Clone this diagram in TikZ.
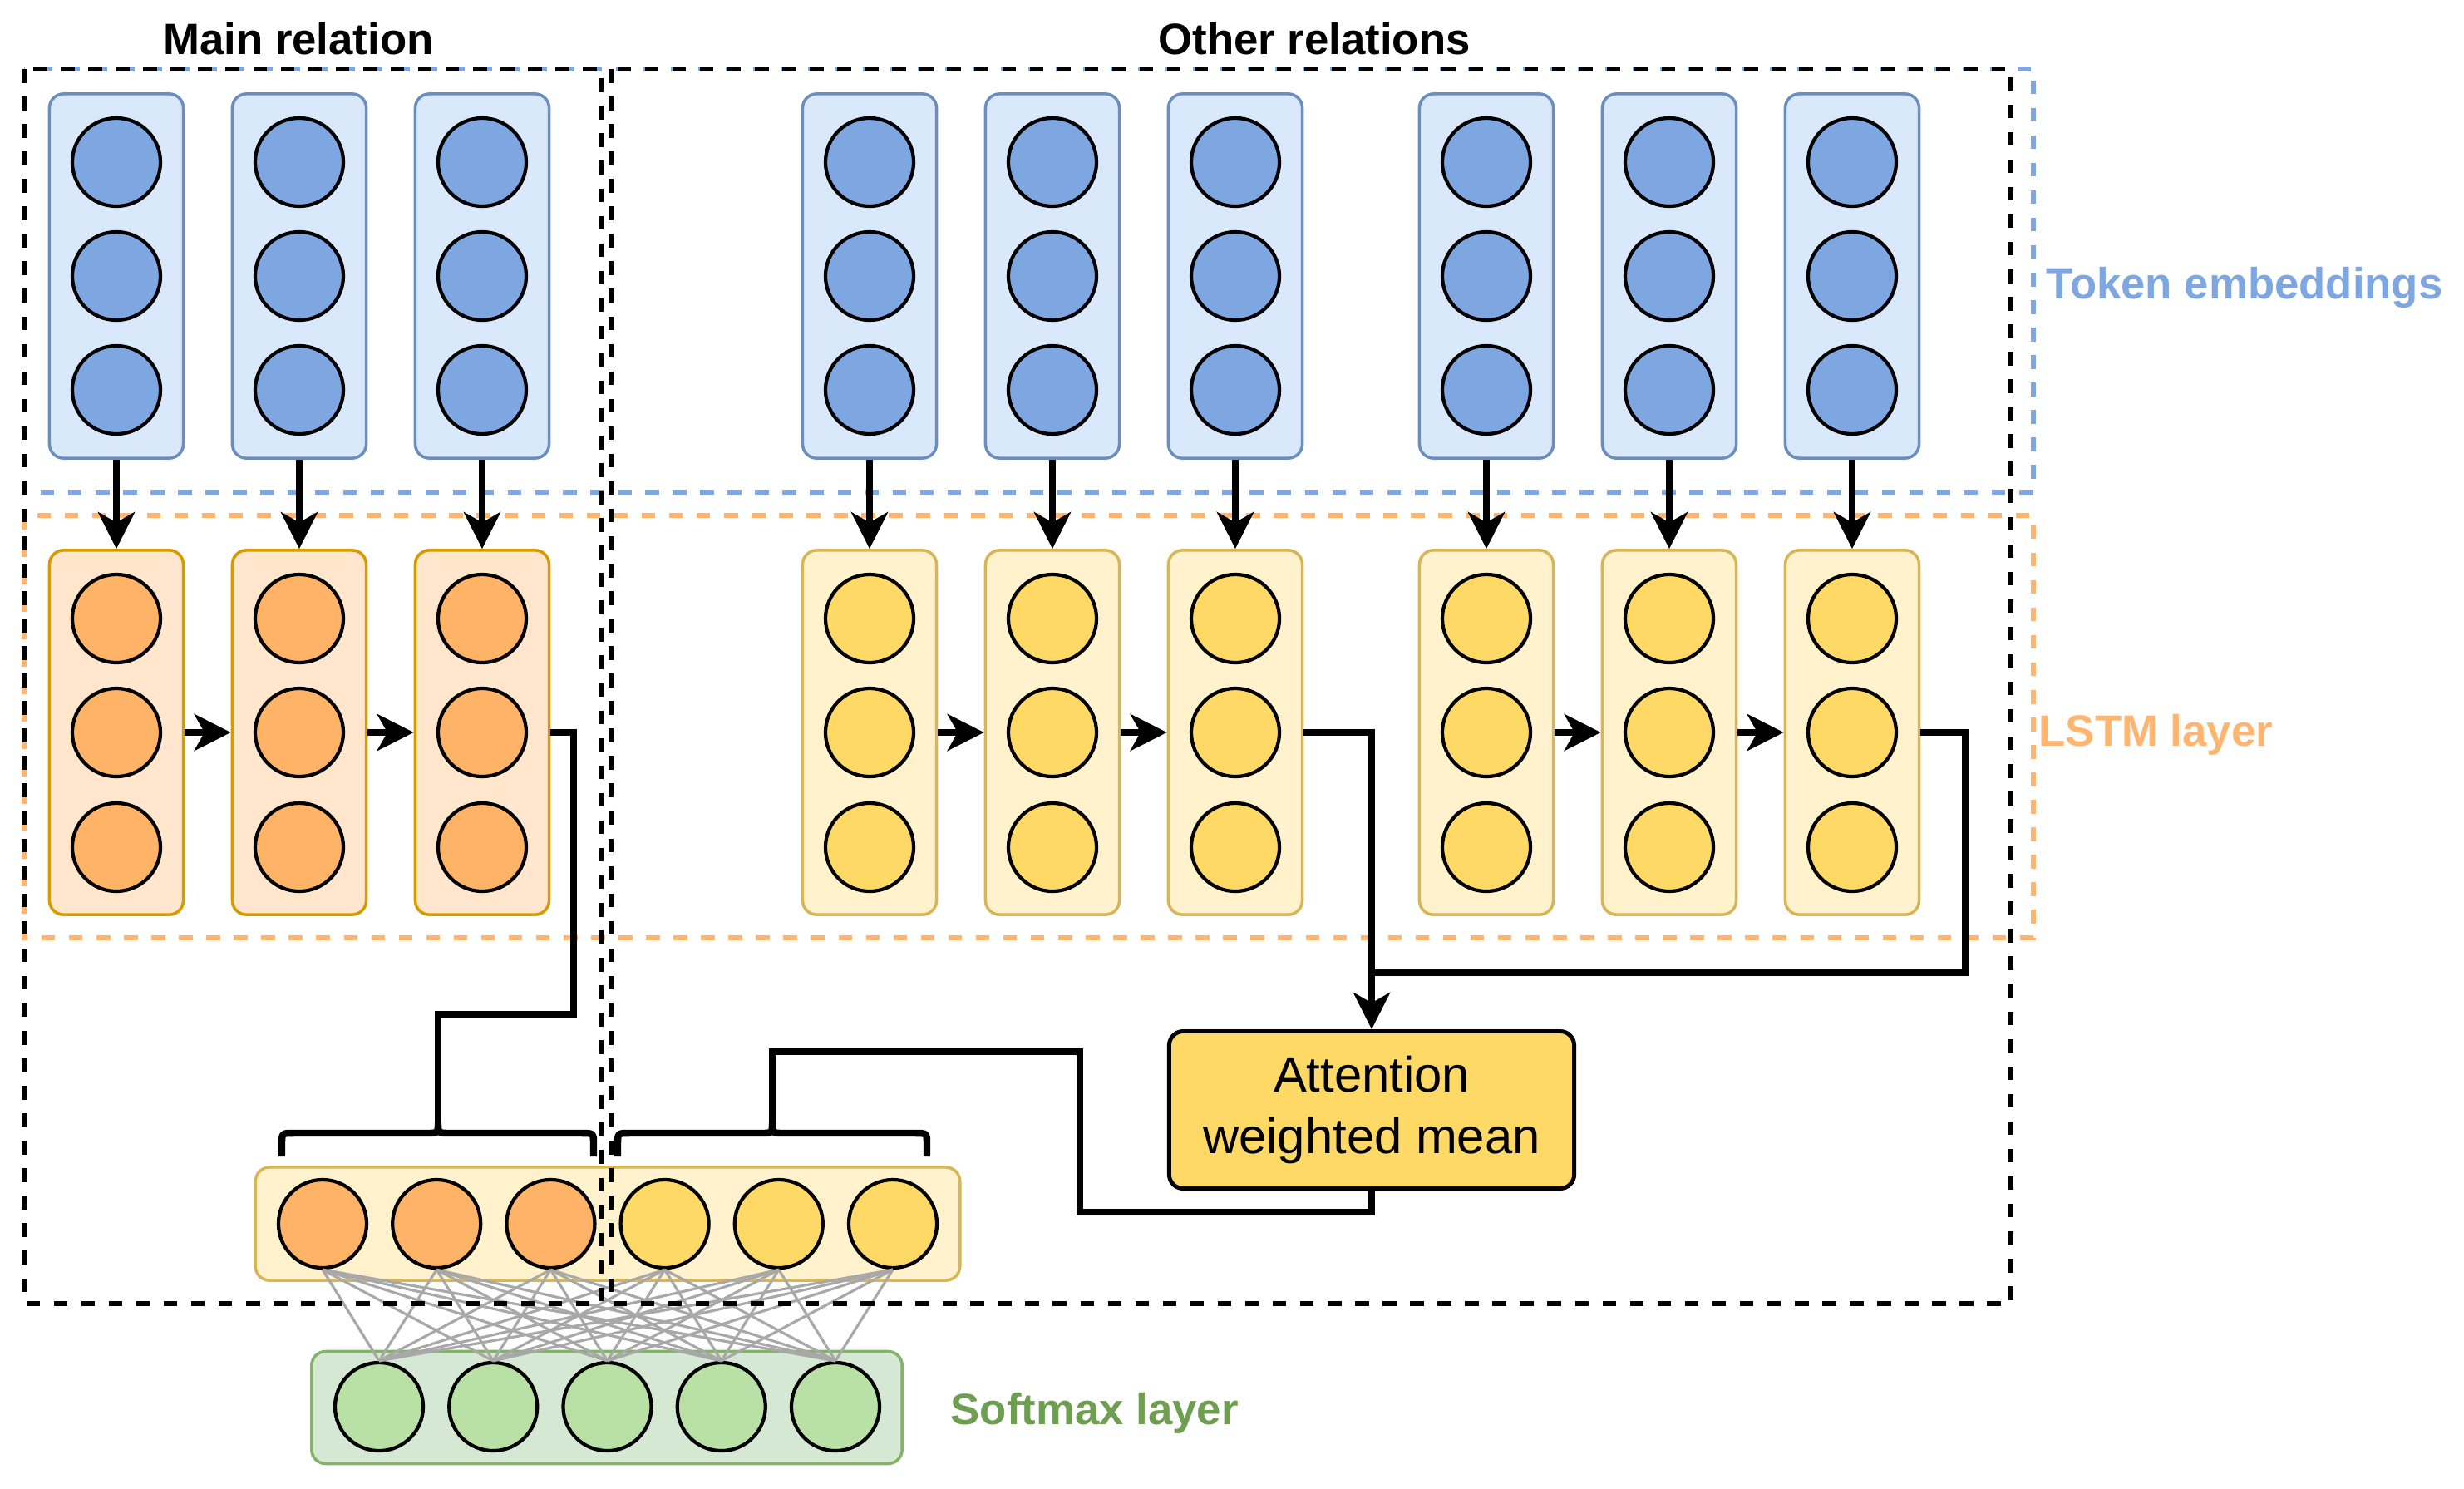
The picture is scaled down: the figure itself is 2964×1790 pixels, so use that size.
\documentclass[tikz,border=0pt]{standalone}
\usepackage{fontspec}
\setmainfont{Liberation Sans}
\usetikzlibrary{arrows.meta}

\definecolor{blueFill}{HTML}{DAE8FC}
\definecolor{blueLine}{HTML}{6C8EBF}
\definecolor{blueDot}{HTML}{7EA6E0}
\definecolor{orangeFill}{HTML}{FFE6CC}
\definecolor{orangeLine}{HTML}{D79B00}
\definecolor{orangeDot}{HTML}{FFB366}
\definecolor{yellowFill}{HTML}{FFF2CC}
\definecolor{yellowLine}{HTML}{D6B656}
\definecolor{yellowDot}{HTML}{FFD966}
\definecolor{greenFill}{HTML}{D5E8D4}
\definecolor{greenLine}{HTML}{82B366}
\definecolor{greenDot}{HTML}{B9E0A5}
\definecolor{greenText}{HTML}{6E9E50}
\definecolor{orangeText}{HTML}{FFB570}
\definecolor{meshGray}{HTML}{A8A8A8}

\tikzset{
  colbox/.style={draw, rounded corners=0.17cm, line width=1pt, minimum width=1.61cm, minimum height=4.38cm},
  rowbox/.style={draw, rounded corners=0.17cm, line width=1pt},
  dotnode/.style={circle, draw=black, line width=1.2pt, minimum size=1.06cm, inner sep=0pt},
  flowarrow/.style={line width=2.4pt, -{Stealth[length=12.5pt,width=12.5pt,inset=3.5pt]}},
  wireline/.style={line width=2.4pt},
  framebox/.style={line width=1.6pt, dash pattern=on 4.7pt off 4.7pt},
  heading/.style={font=\bfseries\fontsize{15}{18}\selectfont, inner sep=0pt},
}
\newcommand{\relbrace}[3]{%
  \draw[wireline] (#1,1391) -- (#1,1377) .. controls (#1,1363) .. ({#1+14},1363)
    -- ({#2-14},1363) .. controls (#2,1363) .. (#2,1350) .. controls (#2,1363) .. ({#2+14},1363)
    -- ({#3-14},1363) .. controls (#3,1363) .. (#3,1377) -- (#3,1391);}

\begin{document}
\begin{tikzpicture}[x=0.01cm, y=-0.01cm]
\useasboundingbox (0,0) rectangle (2964,1790);

% layer frames
\draw[framebox, draw=blueDot] (29,83) rectangle (2446,592);
\draw[framebox, draw=orangeText] (29,620) rectangle (2446,1128);

% token embeddings
\foreach \i/\x in {1/140,2/360,3/580,4/1046,5/1266,6/1486,7/1788,8/2008,9/2228} {
  \node[colbox, draw=blueLine, fill=blueFill] (t\i) at (\x,332) {};
  \foreach \j/\y in {a/195,b/332,c/469}
    \node[dotnode, fill=blueDot] (t\i\j) at (\x,\y) {};
}

% lstm layer
\foreach \i/\x in {1/140,2/360,3/580} {
  \node[colbox, draw=orangeLine, fill=orangeFill] (l\i) at (\x,881) {};
  \foreach \j/\y in {a/744,b/881,c/1019}
    \node[dotnode, fill=orangeDot] (l\i\j) at (\x,\y) {};
}
\foreach \i/\x in {4/1046,5/1266,6/1486,7/1788,8/2008,9/2228} {
  \node[colbox, draw=yellowLine, fill=yellowFill] (l\i) at (\x,881) {};
  \foreach \j/\y in {a/744,b/881,c/1019}
    \node[dotnode, fill=yellowDot] (l\i\j) at (\x,\y) {};
}

\foreach \i in {1,...,9}
  \draw[flowarrow] (t\i) -- (l\i);
\foreach \i/\j in {1/2,2/3,4/5,5/6,7/8,8/9}
  \draw[flowarrow] (l\i) -- (l\j);

% attention
\node[rowbox, draw=black, line width=1.4pt, fill=yellowDot, minimum width=4.87cm, minimum height=1.89cm,
  align=center, font=\fontsize{17}{21}\selectfont] (att) at (1650,1335) {Attention\\weighted mean};
\coordinate (join) at (1650,1170);
\draw[flowarrow] (l6.east) -| (att.north);
\draw[wireline] (l9.east) -| (2364,1170) -- (join);

% concatenated vector
\node[rowbox, draw=yellowLine, fill=yellowFill, minimum width=8.47cm, minimum height=1.36cm] (mix) at (731,1472) {};
\foreach \i in {1,2,3}
  \node[dotnode, fill=orangeDot] (m\i) at ({388+137.2*(\i-1)},1472) {};
\foreach \i in {4,5,6}
  \node[dotnode, fill=yellowDot] (m\i) at ({388+137.2*(\i-1)},1472) {};

\relbrace{339}{527}{714}
\relbrace{743}{929}{1115}
\coordinate (br1) at (527,1350);
\coordinate (br2) at (929,1350);
\draw[wireline] (l3.east) -| (690,1220) -| (br1);
\draw[wireline] (att.south) -- (1650,1458) -| (1299,1265) -| (br2);

% softmax
\node[rowbox, draw=greenLine, fill=greenFill, minimum width=7.10cm, minimum height=1.35cm] (soft) at (730,1693) {};
\foreach \i in {1,...,5}
  \node[dotnode, fill=greenDot] (s\i) at ({456+137.25*(\i-1)},1692) {};
\foreach \i in {1,...,6}
  \foreach \j in {1,...,5}
    \draw[line width=0.9pt, meshGray] (m\i.south) -- (s\j.north);

% relation frames
\draw[framebox] (29,83) rectangle (723,1568);
\draw[framebox] (735,83) rectangle (2419,1568);

\node[heading, anchor=base] (mr) at (359,65) {Main relation};
\node[heading, anchor=base] (or) at (1581,65) {Other relations};
\node[heading, text=blueDot, anchor=base west] (te) at (2461,359) {Token embeddings};
\node[heading, text=orangeText, anchor=base west] (ll) at (2452,897) {LSTM layer};
\node[heading, text=greenText, anchor=base west] (sl) at (1143,1713) {Softmax layer};
\end{tikzpicture}
\end{document}
